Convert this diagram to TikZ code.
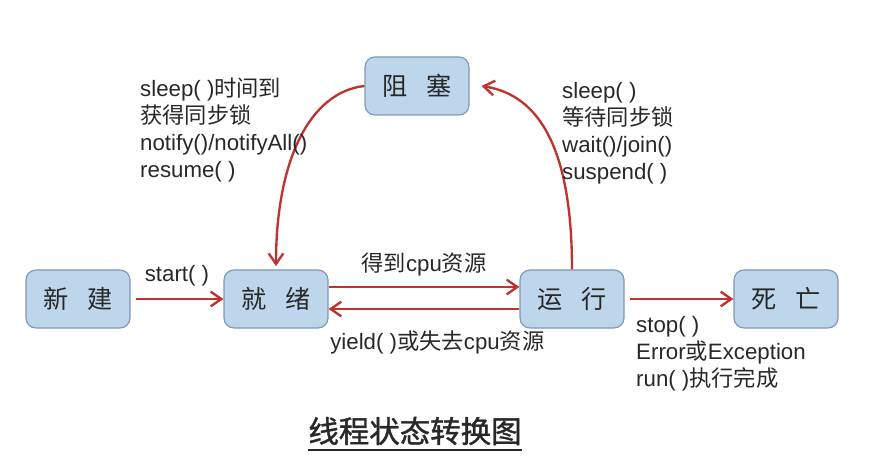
\documentclass[tikz,border=0pt]{standalone}
\usepackage{fontspec}
\setmainfont{Liberation Sans}
\newfontfamily\cjk{Noto Sans CJK SC}
\newfontfamily\cjktitle[FakeBold=1.3]{Noto Sans CJK SC}
\usetikzlibrary{arrows.meta, calc}
\definecolor{boxfill}{RGB}{190,214,236}
\definecolor{boxline}{RGB}{125,152,180}
\definecolor{arrred}{RGB}{190,50,48}
\definecolor{txt}{RGB}{40,40,40}
\newcommand{\zh}[1]{{\cjk #1}}

\begin{document}
\begin{tikzpicture}[
  x=0.03cm, y=-0.03cm,
  state/.style={draw=boxline, fill=boxfill, line width=1pt, rounded corners=0.3cm, minimum width=3.12cm, minimum height=1.74cm, inner sep=0pt, text=txt, font=\fontsize{21.5pt}{25pt}\selectfont\cjk},
  lbl/.style={text=txt, align=left, inner sep=0pt, font=\fontsize{19pt}{23pt}\selectfont},
  arrow/.style={-{Straight Barb[length=3.2mm, width=4.4mm, line width=2pt]}, line width=2pt, arrred}
]
  \useasboundingbox (0,0) rectangle (891,456);

  \node[state] (xin)  at (78,  299) {新\hspace{0.75em}建};
  \node[state] (jiu)  at (276, 299) {就\hspace{0.75em}绪};
  \node[state] (zu)   at (417,  86) {阻\hspace{0.75em}塞};
  \node[state] (yun)  at (572, 299) {运\hspace{0.75em}行};
  \node[state] (si)   at (786, 299) {死\hspace{0.75em}亡};

  \draw[arrow, shorten <=0.15cm] (xin.east) -- (jiu.west)
    node[lbl, midway, above=0.35cm] (startlbl) {start( )};
  \draw[arrow] ([yshift=0.36cm]jiu.east) -- ([yshift=0.36cm]yun.west)
    node[lbl, midway, above=0.3cm] (getcpu) {\zh{得到}cpu\zh{资源}};
  \draw[arrow] ([yshift=-0.3cm]yun.west) -- ([yshift=-0.3cm]jiu.east)
    node[lbl, midway, below=0.62cm, xshift=0.4cm] (yieldlbl) {yield( )\zh{或失去}cpu\zh{资源}};
  \draw[arrow, shorten <=0.15cm] (yun.east) -- (si.west);

  \draw[arrow] (yun.north) .. controls (572,150) and (540,95) .. ([xshift=0.36cm]zu.east);
  \draw[arrow] (zu.west) .. controls (310,92) and (276,160) .. ([yshift=0.1cm]jiu.north);

  \node[lbl, anchor=north west] (wakelbl) at (140, 78) {sleep( )\zh{时间到}\\ \zh{获得同步锁}\\ notify()/notifyAll()\\ resume( )};
  \node[lbl, anchor=north west] (blocklbl) at (562, 82) {sleep( )\\ \zh{等待同步锁}\\ wait()/join()\\ suspend( )};
  \node[lbl, anchor=north west] (deadlbl) at (636, 316) {stop( )\\ Error\zh{或}Exception\\ run( )\zh{执行完成}};

  \node[text=txt, inner sep=0pt, font=\fontsize{26pt}{30pt}\selectfont\cjktitle] (title) at (415, 431) {线程状态转换图};
  \draw[txt, line width=1.6pt] ([yshift=-0.15cm]title.south west) -- ([yshift=-0.15cm]title.south east);
\end{tikzpicture}
\end{document}
